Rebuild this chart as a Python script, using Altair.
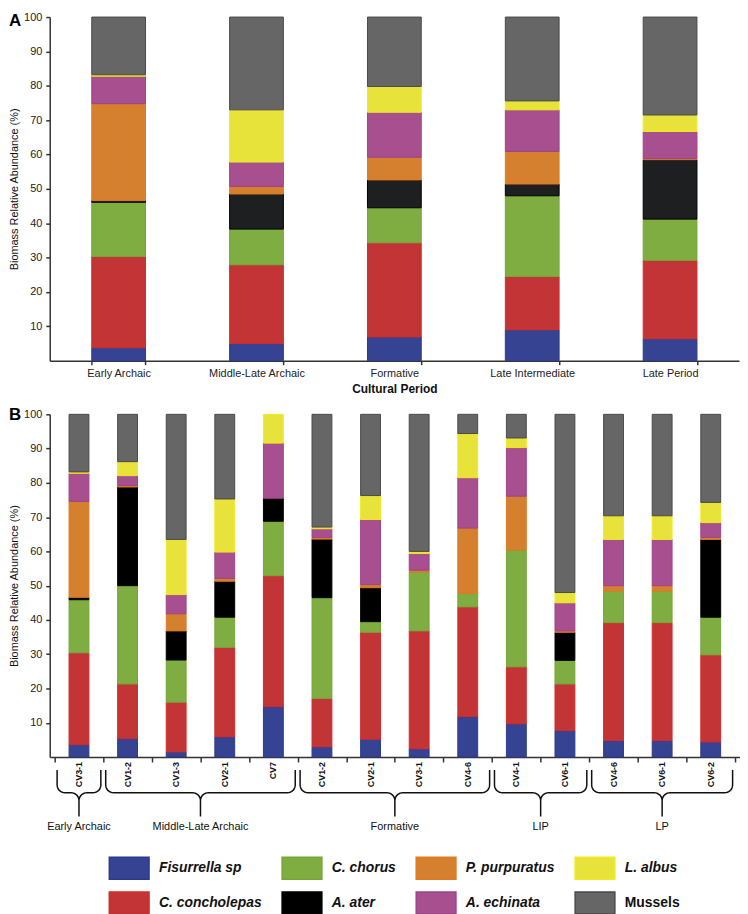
import altair as alt
import pandas as pd
import numpy as np

# ---------------- data ----------------
species = ["Fisurrella sp", "C. concholepas", "C. chorus", "A. ater",
           "P. purpuratus", "A. echinata", "L. albus", "Mussels"]
legend_order = ["Fisurrella sp", "C. chorus", "P. purpuratus", "L. albus",
                "C. concholepas", "A. ater", "A. echinata", "Mussels"]

periods = ["Early Archaic", "Middle-Late Archaic", "Formative", "Late Intermediate", "Late Period"]
a_fis = [3.8, 5.0, 6.9, 9.0, 6.4]
a_conch = [26.5, 22.9, 27.4, 15.5, 22.8]
a_chorus = [15.8, 10.4, 10.2, 23.5, 12.0]
a_ater = [0.5, 10.2, 8.1, 3.4, 17.3]
a_purp = [28.2, 2.2, 6.6, 9.5, 0.3]
a_echin = [8.0, 7.1, 13.1, 12.1, 7.9]
a_albus = [0.4, 15.2, 7.5, 2.6, 4.8]
a_mussels = [16.8, 27.0, 20.2, 24.4, 28.5]

samples = ["CV3-1", "CV1-2", "CV1-3", "CV2-1", "CV7", "CV1-2", "CV2-1", "CV3-1",
           "CV4-6", "CV4-1", "CV6-1", "CV4-6", "CV6-1", "CV6-2"]
b_fis = [3.6, 5.4, 1.5, 5.9, 14.7, 3.0, 5.2, 2.4, 11.8, 9.7, 7.7, 4.8, 4.8, 4.4]
b_conch = [26.8, 15.9, 14.5, 26.1, 38.2, 14.1, 31.2, 34.4, 32.0, 16.6, 13.6, 34.4, 34.4, 25.4]
b_chorus = [15.5, 28.7, 12.3, 8.8, 15.9, 29.4, 3.1, 17.2, 3.9, 34.1, 6.9, 9.2, 9.2, 11.0]
b_ater = [0.7, 28.8, 8.5, 10.5, 6.7, 17.1, 9.9, 0.0, 0.0, 0.0, 8.2, 0.0, 0.0, 22.7]
b_purp = [28.0, 0.4, 5.0, 0.8, 0.0, 0.5, 0.9, 0.5, 19.1, 15.7, 0.4, 1.6, 1.6, 0.6]
b_echin = [8.2, 2.9, 5.6, 7.7, 16.1, 2.5, 19.0, 4.9, 14.7, 14.2, 8.2, 13.5, 13.5, 4.3]
b_albus = [0.4, 4.1, 16.1, 15.5, 8.4, 0.5, 7.0, 0.6, 12.9, 2.8, 3.0, 6.9, 6.9, 5.9]
b_mussels = [16.8, 13.8, 36.5, 24.7, 0.0, 32.9, 23.7, 40.0, 5.6, 6.9, 52.0, 29.6, 29.6, 25.7]

group_names = ["Early Archaic", "Middle-Late Archaic", "Formative", "LIP", "LP"]
group_first = [0, 1, 5, 9, 11]
group_last = [0, 4, 8, 10, 13]

# ---------------- styles ----------------
fill = {"Fisurrella sp": "#364392", "C. concholepas": "#c23435", "C. chorus": "#80ad41",
        "A. ater": "#1e1f21", "P. purpuratus": "#d4802e", "A. echinata": "#a84f90",
        "L. albus": "#e8e33a", "Mussels": "#666666"}
edge = {"Fisurrella sp": "#2c3a8c", "C. concholepas": "#d42a2a", "C. chorus": "#74a535",
        "A. ater": "#000000", "P. purpuratus": "#e07a20", "A. echinata": "#9c4488",
        "L. albus": "#f0ea20", "Mussels": "#4a4a4a"}
FONT = "Liberation Sans"

a_series = [a_fis, a_conch, a_chorus, a_ater, a_purp, a_echin, a_albus, a_mussels]
b_series = [b_fis, b_conch, b_chorus, b_ater, b_purp, b_echin, b_albus, b_mussels]

rows = []
for k, (sp, vals) in enumerate(zip(species, a_series)):
    for p, v in zip(periods, vals):
        if v > 0:
            rows.append({"period": p, "species": sp, "value": v, "k": k})
dfA = pd.DataFrame(rows)

rows = []
for k, (sp, vals) in enumerate(zip(species, b_series)):
    for i, v in enumerate(vals):
        if v > 0:
            rows.append({"idx": i, "species": sp, "value": v, "k": k})
dfB = pd.DataFrame(rows)

WA, HA = 694, 346
WB, HB = 695, 345
step = WB / len(samples)
ppu = HB / 100.0

color_a = alt.Scale(domain=legend_order, range=[fill[s] for s in legend_order])
color_b = alt.Scale(domain=legend_order,
                    range=[("#000000" if s == "A. ater" else fill[s]) for s in legend_order])
stroke_sc = alt.Scale(domain=legend_order, range=[edge[s] for s in legend_order])

YTITLE = "Biomass Relative Abundance (%)"


def yaxis():
    return alt.Axis(values=list(range(10, 101, 10)), title=YTITLE,
                    grid=False, tickSize=4, labelPadding=4, labelFontSize=11,
                    titleFontSize=11, titleFontWeight="normal", titlePadding=4)


# ---------------- panel A ----------------
bars_a = alt.Chart(dfA).mark_bar(strokeWidth=1).encode(
    x=alt.X("period:N", sort=periods,
            scale=alt.Scale(paddingInner=0.61, paddingOuter=0.305),
            axis=alt.Axis(title="Cultural Period", labelAngle=0, tickBand="extent",
                          tickSize=4, labelPadding=3, labelFontSize=11,
                          titleFontSize=12, titleFontWeight="bold", titlePadding=5)),
    y=alt.Y("value:Q", stack="zero", scale=alt.Scale(domain=[0, 100], nice=False), axis=yaxis()),
    color=alt.Color("species:N", scale=color_a, legend=None),
    stroke=alt.Stroke("species:N", scale=stroke_sc, legend=None),
    order=alt.Order("k:Q", sort="ascending"),
)
lab_a = alt.Chart(pd.DataFrame({"t": ["A"]})).mark_text(
    fontSize=17, fontWeight="bold", align="left", baseline="top").encode(
    text="t:N", x=alt.value(-41), y=alt.value(-4))
panel_a = alt.layer(bars_a, lab_a).properties(width=WA, height=HA)

# ---------------- panel B ----------------
xs = alt.Scale(domain=[-0.5, len(samples) - 0.5], nice=False, zero=False)
ys = alt.Scale(domain=[0, 100], nice=False)


def xaxis_b():
    return alt.Axis(values=[i - 0.5 for i in range(len(samples) + 1)], labels=False,
                    title=None, grid=False, tickSize=5)


bars_b = alt.Chart(dfB).mark_bar(size=20, strokeWidth=1).encode(
    x=alt.X("idx:Q", scale=xs, axis=xaxis_b()),
    y=alt.Y("value:Q", stack="zero", scale=ys, axis=yaxis()),
    color=alt.Color("species:N", scale=color_b,
                    legend=alt.Legend(orient="none", legendX=59, legendY=436,
                                      direction="horizontal", columns=4, title=None,
                                      symbolType="M-1,-0.55H1V0.55H-1Z", symbolSize=1600,
                                      symbolStrokeColor="#333333", symbolStrokeWidth=1.5,
                                      symbolOpacity=1, labelFontSize=14, labelFontWeight="bold",
                                      labelFontStyle={"expr": "datum.label == 'Mussels' ? 'normal' : 'italic'"},
                                      labelColor="#111111", labelOffset=9,
                                      columnPadding=17, rowPadding=-6, labelLimit=300)),
    stroke=alt.Stroke("species:N", scale=stroke_sc, legend=None),
    order=alt.Order("k:Q", sort="ascending"),
)

dfS = pd.DataFrame({"idx": list(range(len(samples))), "label": samples,
                    "ly": [-5 / ppu] * len(samples)})
samp_text = alt.Chart(dfS).mark_text(angle=270, align="right", baseline="middle",
                                     fontSize=9, fontWeight="bold", color="#111").encode(
    x=alt.X("idx:Q", scale=xs, axis=xaxis_b()),
    y=alt.Y("ly:Q", scale=ys, axis=yaxis()),
    text="label:N")

# braces (geometry in pixels below the axis, converted to scale units)
r, top_px, hor_px, tip_px = 8, 13, 36, 60


def arc(cx, cy, t0, t1, n=10):
    t = np.linspace(t0, t1, n)
    return list(zip(cx + r * np.cos(t), cy + r * np.sin(t)))


brace_rows = []
label_rows = []
for g, (name, f, l) in enumerate(zip(group_names, group_first, group_last)):
    a = (f - 0.45 + 0.5) * step
    b = (l + 0.45 + 0.5) * step
    c = ((f + l) / 2 + 0.5) * step
    pts = [(a, top_px)]
    pts += arc(a + r, hor_px - r, np.pi, np.pi / 2)
    pts += arc(c - r, hor_px + r, -np.pi / 2, 0)
    pts += [(c, tip_px)]
    pts += arc(c + r, hor_px + r, np.pi, 1.5 * np.pi)
    pts += arc(b - r, hor_px - r, np.pi / 2, 0)
    pts += [(b, top_px)]
    for i, (px, py) in enumerate(pts):
        brace_rows.append({"g": g, "i": i, "bx": px / step - 0.5, "by": -py / ppu})
    label_rows.append({"name": name, "cx": (f + l) / 2, "gy": -71 / ppu})
dfBr = pd.DataFrame(brace_rows)
dfGl = pd.DataFrame(label_rows)

braces = alt.Chart(dfBr).mark_line(color="#111111", strokeWidth=1.5).encode(
    x=alt.X("bx:Q", scale=xs, axis=xaxis_b()),
    y=alt.Y("by:Q", scale=ys, axis=yaxis()),
    detail="g:N", order="i:Q")
group_text = alt.Chart(dfGl).mark_text(fontSize=11, baseline="middle", color="#111").encode(
    x=alt.X("cx:Q", scale=xs, axis=xaxis_b()),
    y=alt.Y("gy:Q", scale=ys, axis=yaxis()),
    text="name:N")
lab_b = alt.Chart(pd.DataFrame({"t": ["B"]})).mark_text(
    fontSize=17, fontWeight="bold", align="left", baseline="top").encode(
    text="t:N", x=alt.value(-41), y=alt.value(-7))

panel_b = alt.layer(bars_b, samp_text, braces, group_text, lab_b).properties(width=WB, height=HB)

chart = alt.vconcat(panel_a, panel_b, spacing=12).resolve_scale(
    color="independent", stroke="independent"
).properties(padding={"left": 0, "top": 0, "right": 0, "bottom": 0}).configure(
    font=FONT
).configure_view(stroke=None).configure_axis(
    domainColor="#333333", tickColor="#333333", domainWidth=1.5, tickWidth=1.5,
    labelColor="#222222", titleColor="#111111", labelFont=FONT, titleFont=FONT
).configure_legend(labelFont=FONT)

chart.save("out.html", embed_options={"renderer": "svg", "actions": False})
